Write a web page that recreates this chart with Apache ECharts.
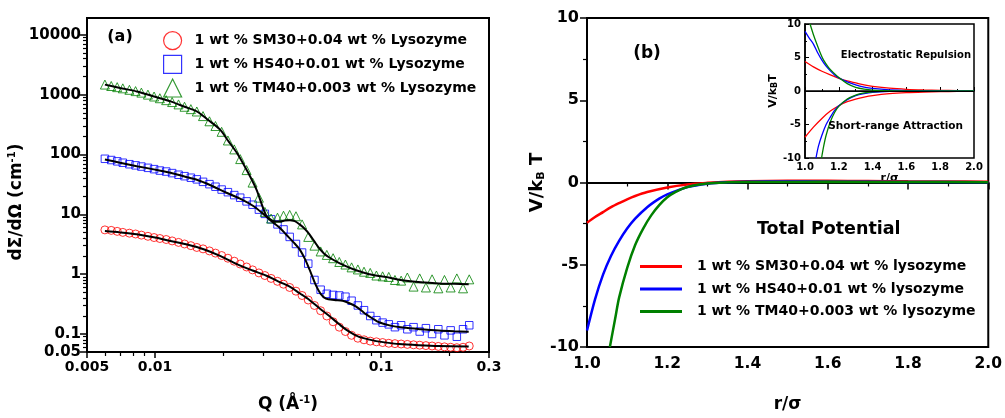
<!DOCTYPE html>
<html><head><meta charset="utf-8">
<script src="https://cdn.jsdelivr.net/npm/echarts@6/dist/echarts.min.js"></script>
<style>html,body{margin:0;padding:0;background:#fff}#c{width:1005px;height:418px}</style>
</head><body><div id="c"></div>
<script>
const FONT = 'DejaVu Sans';

// ---------- Panel (a): SANS data ----------
const Q = [0.0060,0.0064,0.0068,0.0072,0.0077,0.0082,0.0087,0.0093,0.0099,0.0105,
  0.0112,0.0119,0.0127,0.0135,0.0144,0.0153,0.0163,0.0174,0.0185,0.0197,
  0.0210,0.0224,0.0238,0.0254,0.0270,0.0288,0.0306,0.0326,0.0348,0.0370,
  0.0394,0.0420,0.0447,0.0476,0.0507,0.0540,0.0575,0.0613,0.0653,0.0695,
  0.0740,0.0789,0.0840,0.0895,0.0953,0.1015,0.1081,0.1151,0.1226,0.1306,
  0.1391,0.1481,0.1578,0.1680,0.1790,0.1906,0.2030,0.2162,0.2303,0.2453];
const sm30 = [5.5,5.4,5.2,5.0,4.85,4.7,4.5,4.3,4.1,3.95,
  3.8,3.6,3.4,3.2,3.0,2.8,2.65,2.45,2.25,2.05,
  1.85,1.65,1.48,1.32,1.18,1.05,0.95,0.85,0.76,0.68,
  0.6,0.52,0.44,0.37,0.3,0.245,0.2,0.16,0.13,0.11,
  0.095,0.085,0.08,0.076,0.074,0.072,0.07,0.069,0.068,0.067,
  0.066,0.065,0.064,0.063,0.062,0.061,0.06,0.059,0.06,0.063];
const hs40 = [85,81,77,73,69,66,63,60,57,54,
  52,49,46,43.5,41,38.5,35,32,29,26,
  23.5,21,19,16.5,14.5,12,10.2,8.3,6.8,5.6,
  4.2,3.2,2.3,1.5,0.8,0.55,0.47,0.45,0.44,0.42,
  0.36,0.3,0.25,0.2,0.17,0.155,0.145,0.13,0.14,0.12,
  0.13,0.11,0.125,0.1,0.12,0.095,0.115,0.09,0.12,0.14];
const tm40 = [1480,1400,1340,1280,1210,1150,1085,1005,935,875,
  812,755,690,630,575,525,440,360,300,240,
  172,122,84,55,34,19,11,8.5,8.8,9.5,
  9.8,9.3,6.8,4.2,3.0,2.4,2.1,1.85,1.6,1.45,
  1.3,1.2,1.1,1.05,0.95,0.92,0.9,0.8,0.78,0.88,
  0.62,0.85,0.6,0.82,0.58,0.8,0.6,0.85,0.58,0.82];

const fitSM30 = [[0.0060,5.27],[0.0070,5.0],[0.0083,4.64],[0.0100,4.1],[0.0117,3.59],[0.0140,3.1],
  [0.0164,2.61],[0.0195,2.0],[0.0230,1.47],[0.0270,1.15],[0.0311,0.94],[0.0350,0.76],[0.0394,0.62],
  [0.0436,0.48],[0.0482,0.37],[0.0533,0.27],[0.0590,0.2],[0.0653,0.145],[0.0700,0.118],[0.0760,0.098],
  [0.0827,0.086],[0.0950,0.076],[0.1050,0.072],[0.1200,0.068],[0.1470,0.065],[0.1800,0.063],[0.2440,0.062]];
const fitHS40 = [[0.0060,83],[0.0070,73],[0.0083,64],[0.0100,56],[0.0117,49.5],[0.0135,43],[0.0153,38],
  [0.0175,31],[0.0207,23],[0.0240,18],[0.0272,13.8],[0.0300,10.3],[0.0333,7.3],[0.0356,6.0],[0.0380,4.6],
  [0.0410,3.4],[0.0436,2.6],[0.0460,1.8],[0.0482,1.2],[0.0500,0.85],[0.0516,0.64],[0.0540,0.47],
  [0.0570,0.39],[0.0620,0.37],[0.0675,0.36],[0.0720,0.33],[0.0772,0.29],[0.0820,0.245],[0.0856,0.215],
  [0.0920,0.18],[0.0978,0.157],[0.1100,0.138],[0.1250,0.128],[0.1500,0.12],[0.1800,0.114],[0.2100,0.111],[0.2440,0.109]];
const fitTM40 = [[0.0060,1476],[0.0070,1300],[0.0083,1136],[0.0100,925],[0.0117,774],[0.0135,630],
  [0.0153,527],[0.0170,390],[0.0194,261],[0.0210,172],[0.0230,107],[0.0250,62],[0.0263,43.5],[0.0281,26],
  [0.0300,13],[0.0311,9.4],[0.0321,8.4],[0.0335,7.7],[0.0356,7.6],[0.0375,7.9],[0.0394,8.0],[0.0415,7.7],
  [0.0436,6.8],[0.0460,5.7],[0.0482,4.64],[0.0510,3.4],[0.0533,2.7],[0.0560,2.2],[0.0590,1.9],[0.0650,1.55],
  [0.0723,1.29],[0.0800,1.12],[0.0886,1.0],[0.1000,0.92],[0.1080,0.88],[0.1240,0.79],[0.1500,0.73],
  [0.1800,0.70],[0.2100,0.69],[0.2440,0.68]];

const xTicksA = [0.005,0.01,0.1,0.3];
const xMinorA = [0.006,0.007,0.008,0.009,0.02,0.03,0.04,0.05,0.06,0.07,0.08,0.09,0.2];
const yTicksA = [0.05,0.1,1,10,100,1000,10000];
const yMinorA = [0.06,0.07,0.08,0.09,0.2,0.3,0.4,0.5,0.6,0.7,0.8,0.9,2,3,4,5,6,7,8,9,
  20,30,40,50,60,70,80,90,200,300,400,500,600,700,800,900,2000,3000,4000,5000,6000,7000,8000,9000];

// ---------- Panel (b): total potential ----------
const totSM30 = [[1.0,-2.45],[1.02,-2.1],[1.04,-1.8],[1.06,-1.5],[1.08,-1.25],[1.1,-1.02],[1.12,-0.82],
  [1.15,-0.58],[1.2,-0.3],[1.25,-0.12],[1.3,-0.02],[1.35,0.05],[1.4,0.08],[1.5,0.1],[1.6,0.1],[1.7,0.09],
  [1.8,0.07],[1.9,0.06],[2.0,0.05]];
const totHS40 = [[1.0,-9.0],[1.02,-7.1],[1.04,-5.6],[1.06,-4.45],[1.08,-3.55],[1.1,-2.8],[1.12,-2.2],
  [1.15,-1.5],[1.18,-0.98],[1.2,-0.72],[1.25,-0.28],[1.3,-0.07],[1.35,0.02],[1.4,0.05],[1.5,0.06],
  [1.6,0.05],[1.8,0.03],[2.0,0.02]];
const totTM40 = [[1.057,-10],[1.07,-8.3],[1.08,-7.0],[1.1,-5.2],[1.12,-3.8],[1.14,-2.8],[1.16,-2.0],
  [1.18,-1.38],[1.2,-0.9],[1.22,-0.58],[1.25,-0.27],[1.3,-0.06],[1.35,0.01],[1.4,0.03],[1.6,0.04],
  [1.8,0.03],[2.0,0.02]];

// ---------- Inset: repulsion / attraction ----------
const repSM30 = [[1.0,4.4],[1.05,3.6],[1.1,2.95],[1.15,2.4],[1.2,1.9],[1.25,1.5],[1.3,1.2],[1.35,0.9],
  [1.4,0.7],[1.5,0.42],[1.6,0.25],[1.7,0.15],[1.8,0.09],[1.9,0.06],[2.0,0.04]];
const repHS40 = [[1.0,8.9],[1.025,7.9],[1.05,7.0],[1.075,5.7],[1.1,4.6],[1.125,3.7],[1.15,3.0],[1.175,2.4],
  [1.2,1.95],[1.25,1.35],[1.3,0.9],[1.35,0.58],[1.4,0.38],[1.5,0.16],[1.6,0.07],[1.8,0.02],[2.0,0.01]];
const repTM40 = [[1.03,10],[1.05,8.4],[1.07,7.0],[1.09,5.7],[1.11,4.6],[1.14,3.5],[1.17,2.7],[1.2,2.0],
  [1.25,1.1],[1.3,0.55],[1.35,0.28],[1.4,0.14],[1.5,0.04],[1.6,0.01],[2.0,0]];
const attSM30 = [[1.0,-6.9],[1.05,-5.4],[1.1,-4.1],[1.15,-3.0],[1.2,-2.2],[1.25,-1.6],[1.3,-1.2],[1.35,-0.9],
  [1.4,-0.68],[1.5,-0.4],[1.6,-0.24],[1.7,-0.15],[1.8,-0.09],[1.9,-0.06],[2.0,-0.04]];
const attHS40 = [[1.065,-10],[1.08,-8.2],[1.1,-6.6],[1.125,-5.0],[1.15,-3.9],[1.175,-2.9],[1.2,-2.2],
  [1.25,-1.3],[1.3,-0.7],[1.35,-0.4],[1.4,-0.22],[1.5,-0.07],[1.6,-0.02],[2.0,0]];
const attTM40 = [[1.098,-10],[1.11,-8.3],[1.125,-6.6],[1.15,-4.6],[1.175,-3.2],[1.2,-2.3],[1.25,-1.2],
  [1.3,-0.6],[1.35,-0.28],[1.4,-0.12],[1.5,-0.02],[2.0,0]];

const namesA = ['1 wt % SM30+0.04 wt % Lysozyme','1 wt % HS40+0.01 wt % Lysozyme','1 wt % TM40+0.003 wt % Lysozyme'];
const namesB = ['1 wt % SM30+0.04 wt % lysozyme','1 wt % HS40+0.01 wt % lysozyme','1 wt % TM40+0.003 wt % lysozyme'];
const RED = '#ff0000', BLUE = '#0000ff', GREEN = '#008000';

const chart = echarts.init(document.getElementById('c'));
const fmtNum = v => String(+Number(v).toPrecision(6));
const lbl = (size, extra) => Object.assign({color:'#000', fontFamily:FONT, fontWeight:'bold', fontSize:size}, extra||{});
const axLine = w => ({show:true, lineStyle:{color:'#000', width:w}});
const supRich = (n, s, raise) => ({
  n: lbl(n, {verticalAlign:'bottom', lineHeight:n + 4}),
  s: lbl(s, {verticalAlign:'bottom', lineHeight:s + 2, padding:[0,0,raise,0]})
});

const scatter = (name, data, sym, color, size) => ({
  type:'scatter', name, xAxisIndex:0, yAxisIndex:0, data: Q.map((q,i)=>[q, data[i]]),
  symbol:sym, symbolSize:size, itemStyle:{color:'rgba(0,0,0,0)', borderColor:color, borderWidth:1}, z:2
});
const fit = data => ({type:'line', xAxisIndex:0, yAxisIndex:0, data, symbol:'none', smooth:0.3,
  lineStyle:{color:'#000', width:2}, z:3, silent:true});
const curve = (name, data, color, xi, yi, w) => ({type:'line', name, xAxisIndex:xi, yAxisIndex:yi, data,
  symbol:'none', showSymbol:false, smooth:0.3, lineStyle:{color, width:w}, itemStyle:{color}, z:3});

const option = {
  animation:false,
  backgroundColor:'#fff',
  grid:[
    {left:87, top:18, width:402, height:335, show:true, borderColor:'#000', borderWidth:2},
    {left:587, top:18, width:402, height:335, show:true, borderColor:'#000', borderWidth:2},
    {left:805, top:24, width:169, height:134, show:true, borderColor:'#000', borderWidth:1.5, backgroundColor:'#fff'}
  ],
  xAxis:[
    {type:'log', gridIndex:0, min:0.005, max:0.3, position:'bottom',
     axisLine:axLine(2), splitLine:{show:false},
     axisTick:{length:6, lineStyle:{color:'#000', width:1.5}, customValues:xTicksA},
     axisLabel:lbl(14,{margin:8, customValues:xTicksA, formatter:fmtNum}),
     name:'{n|Q (Å}{s|-1}{n|)}', nameLocation:'middle', nameGap:40,
     nameTextStyle:{rich:supRich(17, 10, 8)}},
    {type:'log', gridIndex:0, min:0.005, max:0.3, position:'bottom',
     axisLine:{show:false}, splitLine:{show:false},
     axisTick:{length:4, lineStyle:{color:'#000', width:1.2}, customValues:xMinorA},
     axisLabel:{show:false}},
    {type:'value', gridIndex:1, min:1.0, max:2.0, interval:0.2, position:'bottom',
     axisLine:axLine(2), splitLine:{show:false},
     axisTick:{length:7, lineStyle:{color:'#000', width:1.5}},
     minorTick:{show:true, splitNumber:2, length:4, lineStyle:{color:'#000', width:1.2}},
     axisLabel:lbl(15.5,{margin:9, formatter:v=>v.toFixed(1)}),
     name:'r/σ', nameLocation:'middle', nameGap:49, nameTextStyle:lbl(17)},
    {type:'value', gridIndex:2, min:1.0, max:2.0, interval:0.2, position:'bottom',
     axisLine:axLine(1.5), splitLine:{show:false},
     axisTick:{inside:true, length:4, lineStyle:{color:'#000', width:1}},
     minorTick:{show:true, splitNumber:2, length:2, lineStyle:{color:'#000', width:1}},
     axisLabel:lbl(10,{margin:4, formatter:v=>v.toFixed(1)}),
     name:'r/σ', nameLocation:'middle', nameGap:14, nameTextStyle:lbl(11)}
  ],
  yAxis:[
    {type:'log', gridIndex:0, min:0.05, max:19200, position:'left',
     axisLine:axLine(2), splitLine:{show:false},
     axisTick:{length:7, lineStyle:{color:'#000', width:1.5}, customValues:yTicksA},
     axisLabel:lbl(15,{margin:6, customValues:yTicksA, formatter:fmtNum}),
     name:'{n|dΣ/dΩ (cm}{s|-1}{n|)}', nameLocation:'middle', nameGap:52,
     nameTextStyle:{padding:[0,34,0,0], rich:supRich(17, 10, 8)}},
    {type:'log', gridIndex:0, min:0.05, max:19200, position:'left',
     axisLine:{show:false}, splitLine:{show:false},
     axisTick:{length:4, lineStyle:{color:'#000', width:1.2}, customValues:yMinorA},
     axisLabel:{show:false}},
    {type:'value', gridIndex:1, min:-10, max:10, interval:5, position:'left',
     axisLine:axLine(2), splitLine:{show:false},
     axisTick:{length:7, lineStyle:{color:'#000', width:1.5}},
     minorTick:{show:true, splitNumber:2, length:4, lineStyle:{color:'#000', width:1.2}},
     axisLabel:lbl(16,{margin:8}),
     name:'{n|V/k}{b|B}{n| T}', nameLocation:'middle', nameGap:40,
     nameTextStyle:{rich:{n:lbl(18), b:lbl(11,{verticalAlign:'bottom'})}}},
    {type:'value', gridIndex:2, min:-10, max:10, interval:5, position:'left',
     axisLine:axLine(1.5), splitLine:{show:false},
     axisTick:{inside:true, length:4, lineStyle:{color:'#000', width:1}},
     minorTick:{show:true, splitNumber:2, length:2, lineStyle:{color:'#000', width:1}},
     axisLabel:lbl(10,{margin:4}),
     name:'{n|V/k}{b|B}{n|T}', nameLocation:'middle', nameGap:20,
     nameTextStyle:{rich:{n:lbl(11), b:lbl(8,{verticalAlign:'bottom'})}}}
  ],
  legend:[
    {orient:'vertical', left:158, top:26, itemWidth:18, itemHeight:18, itemGap:4.5,
     textStyle:lbl(14,{padding:[0,0,0,8]}),
     data:[
      {name:namesA[0], icon:'circle', itemStyle:{color:'rgba(0,0,0,0)', borderColor:RED, borderWidth:1.2}},
      {name:namesA[1], icon:'rect', itemStyle:{color:'rgba(0,0,0,0)', borderColor:BLUE, borderWidth:1.2}},
      {name:namesA[2], icon:'triangle', itemStyle:{color:'rgba(0,0,0,0)', borderColor:GREEN, borderWidth:1.2}}
     ]},
    {orient:'vertical', left:635, top:253, itemWidth:42, itemHeight:3, itemGap:5.5,
     textStyle:lbl(14,{padding:[0,0,0,10], lineHeight:17}),
     data:[
      {name:namesB[0], icon:'rect', itemStyle:{color:RED}},
      {name:namesB[1], icon:'rect', itemStyle:{color:BLUE}},
      {name:namesB[2], icon:'rect', itemStyle:{color:GREEN}}
     ]}
  ],
  graphic:[
    {type:'text', x:120, y:37, style:{text:'(a)', fill:'#000', font:'bold 16px "DejaVu Sans"', align:'center', verticalAlign:'middle'}},
    {type:'text', x:647, y:54, style:{text:'(b)', fill:'#000', font:'bold 17px "DejaVu Sans"', align:'center', verticalAlign:'middle'}},
    {type:'text', x:757, y:229, style:{text:'Total Potential', fill:'#000', font:'bold 17.5px "DejaVu Sans"', align:'left', verticalAlign:'middle'}},
    {type:'text', x:971, y:55, z:10, style:{text:'Electrostatic Repulsion', fill:'#000', font:'bold 10px "DejaVu Sans"', align:'right', verticalAlign:'middle'}},
    {type:'text', x:963, y:126, z:10, style:{text:'Short-range Attraction', fill:'#000', font:'bold 10.5px "DejaVu Sans"', align:'right', verticalAlign:'middle'}}
  ],
  series:[
    scatter(namesA[0], sm30, 'circle', RED, 8),
    scatter(namesA[1], hs40, 'rect', BLUE, 7.5),
    scatter(namesA[2], tm40, 'triangle', GREEN, 9),
    fit(fitSM30), fit(fitHS40), fit(fitTM40),
    Object.assign(curve(namesB[0], totSM30, RED, 2, 2, 2.5), {
      markLine:{silent:true, symbol:'none', label:{show:false}, z:1,
        lineStyle:{color:'#000', width:1.5, type:'solid'}, data:[{yAxis:0}]}}),
    curve(namesB[1], totHS40, BLUE, 2, 2, 2.5),
    curve(namesB[2], totTM40, GREEN, 2, 2, 2.5),
    Object.assign(curve('repSM30', repSM30, RED, 3, 3, 1.3), {
      markLine:{silent:true, symbol:'none', label:{show:false},
        lineStyle:{color:'#000', width:1, type:'solid'}, data:[{yAxis:0}]}}),
    curve('repHS40', repHS40, BLUE, 3, 3, 1.3),
    curve('repTM40', repTM40, GREEN, 3, 3, 1.3),
    curve('attSM30', attSM30, RED, 3, 3, 1.3),
    curve('attHS40', attHS40, BLUE, 3, 3, 1.3),
    curve('attTM40', attTM40, GREEN, 3, 3, 1.3)
  ]
};
chart.setOption(option);
</script></body></html>
